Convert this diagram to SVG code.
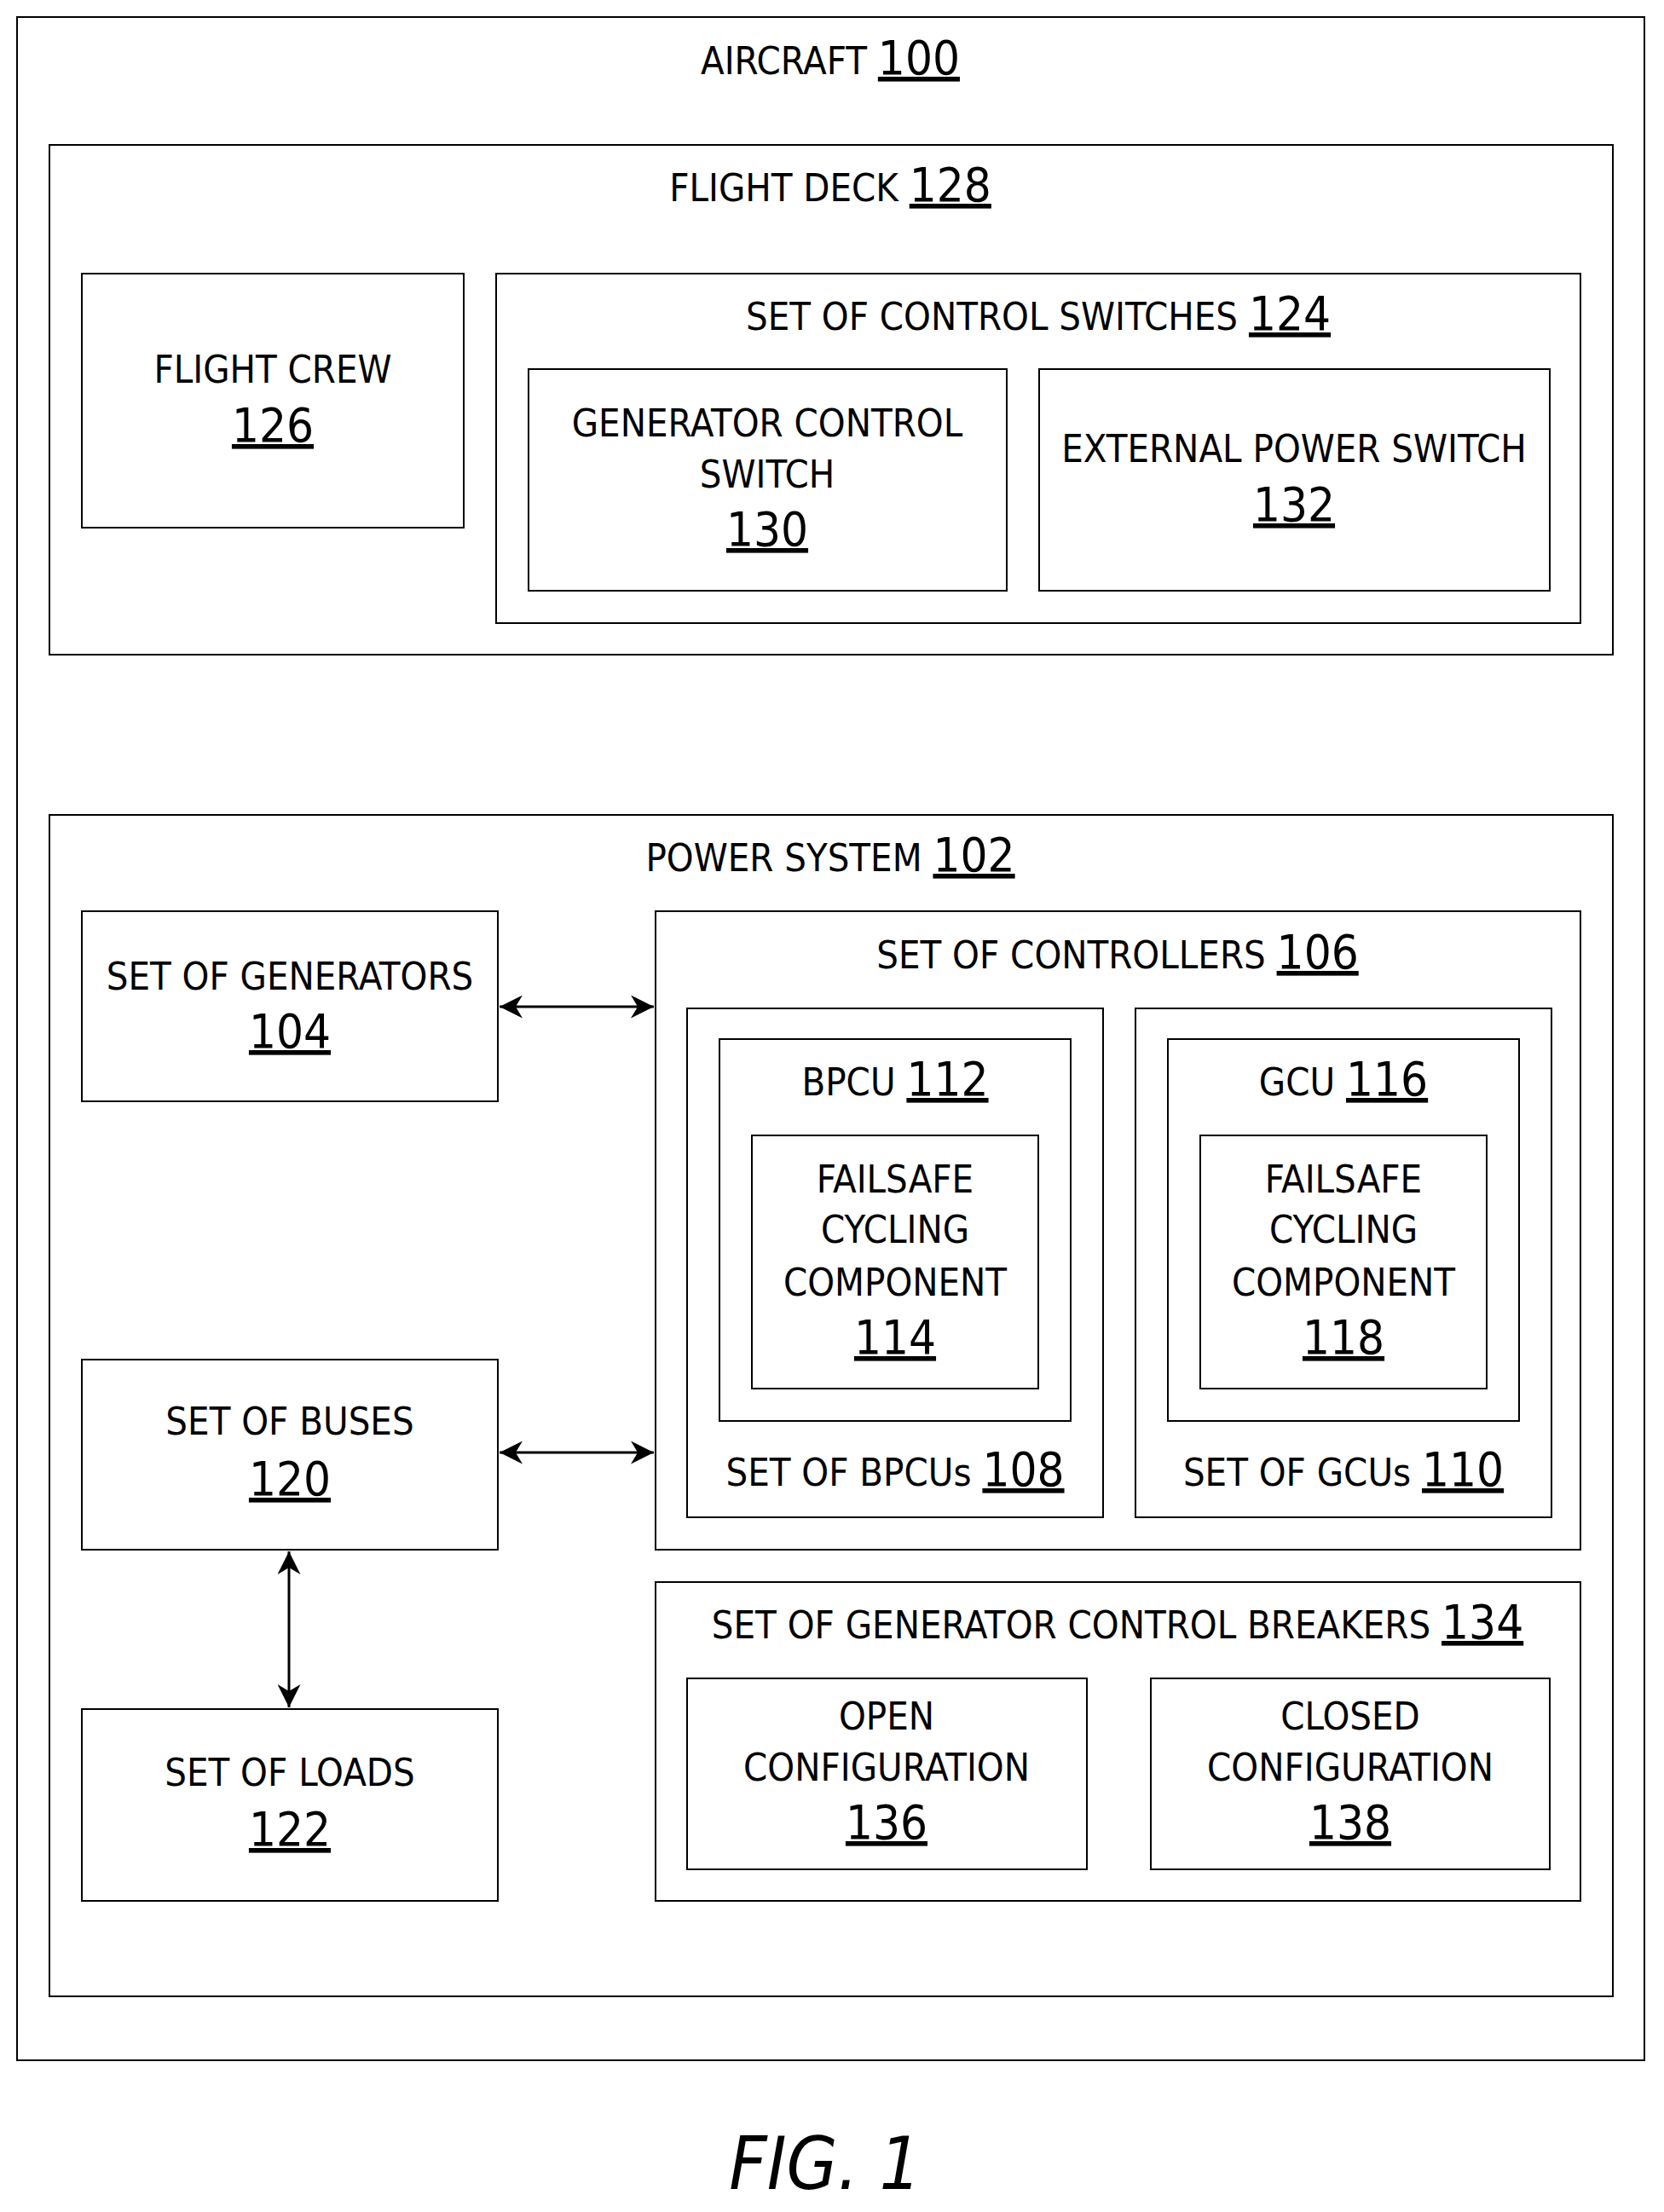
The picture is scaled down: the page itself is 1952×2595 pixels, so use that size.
<svg xmlns="http://www.w3.org/2000/svg" width="1952" height="2595" viewBox="0 0 1952 2595">
<style>
rect{fill:none;stroke:#000;stroke-width:2}
text{font-family:"DejaVu Sans Condensed","DejaVu Sans",sans-serif;font-size:45px;text-anchor:middle;fill:#000}
.n{font-size:56px;text-decoration:underline}
.c{stroke:#000;stroke-width:3;fill:none}
</style>
<defs><marker id="a" viewBox="0 0 10 10" refX="10" refY="5" markerWidth="9" markerHeight="9" orient="auto-start-reverse"><path d="M0,0L10,5L0,10L3,5z" fill="#000"/></marker></defs>
<rect x="20" y="20" width="1909" height="2397"/>
<g id="aircraft"><text x="974" y="87">AIRCRAFT <tspan class="n">100</tspan></text></g>
<g id="flightdeck"><rect x="58" y="170" width="1834" height="598"/><text x="974" y="236">FLIGHT DECK <tspan class="n">128</tspan></text></g>
<g id="crew"><rect x="96" y="321" width="448" height="298"/><text x="320" y="449">FLIGHT CREW</text><text class="n" x="320" y="518">126</text></g>
<g id="switches"><rect x="582" y="321" width="1272" height="410"/><text x="1218" y="387">SET OF CONTROL SWITCHES <tspan class="n">124</tspan></text></g>
<g id="gcs"><rect x="620" y="433" width="561" height="260"/><text x="900" y="512">GENERATOR CONTROL</text><text x="900" y="572">SWITCH</text><text class="n" x="900" y="640">130</text></g>
<g id="eps"><rect x="1219" y="433" width="599" height="260"/><text x="1518" y="542">EXTERNAL POWER SWITCH</text><text class="n" x="1518" y="611">132</text></g>
<g id="power"><rect x="58" y="956" width="1834" height="1386"/><text x="974" y="1022">POWER SYSTEM <tspan class="n">102</tspan></text></g>
<g id="gen"><rect x="96" y="1069" width="488" height="223"/><text x="340" y="1161">SET OF GENERATORS</text><text class="n" x="340" y="1229">104</text></g>
<g id="ctrl"><rect x="769" y="1069" width="1085" height="749"/><text x="1311" y="1136">SET OF CONTROLLERS <tspan class="n">106</tspan></text></g>
<g id="bpcus"><rect x="806" y="1183" width="488" height="597"/><text x="1050" y="1743">SET OF BPCUs <tspan class="n">108</tspan></text></g>
<g id="bpcu"><rect x="844" y="1219" width="412" height="448"/><text x="1050" y="1285">BPCU <tspan class="n">112</tspan></text></g>
<g id="fcc114"><rect x="882" y="1332" width="336" height="297"/><text x="1050" y="1399">FAILSAFE</text><text x="1050" y="1458">CYCLING</text><text x="1050" y="1520">COMPONENT</text><text class="n" x="1050" y="1588">114</text></g>
<g id="gcus"><rect x="1332" y="1183" width="488" height="597"/><text x="1576" y="1743">SET OF GCUs <tspan class="n">110</tspan></text></g>
<g id="gcu"><rect x="1370" y="1219" width="412" height="448"/><text x="1576" y="1285">GCU <tspan class="n">116</tspan></text></g>
<g id="fcc118"><rect x="1408" y="1332" width="336" height="297"/><text x="1576" y="1399">FAILSAFE</text><text x="1576" y="1458">CYCLING</text><text x="1576" y="1520">COMPONENT</text><text class="n" x="1576" y="1588">118</text></g>
<g id="buses"><rect x="96" y="1595" width="488" height="223"/><text x="340" y="1683">SET OF BUSES</text><text class="n" x="340" y="1754">120</text></g>
<g id="loads"><rect x="96" y="2005" width="488" height="225"/><text x="340" y="2095">SET OF LOADS</text><text class="n" x="340" y="2165">122</text></g>
<g id="breakers"><rect x="769" y="1856" width="1085" height="374"/><text x="1311" y="1922">SET OF GENERATOR CONTROL BREAKERS <tspan class="n">134</tspan></text></g>
<g id="open"><rect x="806" y="1969" width="469" height="224"/><text x="1040" y="2029">OPEN</text><text x="1040" y="2089">CONFIGURATION</text><text class="n" x="1040" y="2157">136</text></g>
<g id="closed"><rect x="1350" y="1969" width="468" height="224"/><text x="1584" y="2029">CLOSED</text><text x="1584" y="2089">CONFIGURATION</text><text class="n" x="1584" y="2157">138</text></g>
<g id="connectors">
<line class="c" x1="586" y1="1181" x2="767" y2="1181" marker-start="url(#a)" marker-end="url(#a)"/>
<line class="c" x1="586" y1="1704" x2="767" y2="1704" marker-start="url(#a)" marker-end="url(#a)"/>
<line class="c" x1="339" y1="1820" x2="339" y2="2003" marker-start="url(#a)" marker-end="url(#a)"/>
</g>
<text x="968" y="2568" style="font-size:86px;font-style:italic">FIG. 1</text>
</svg>
